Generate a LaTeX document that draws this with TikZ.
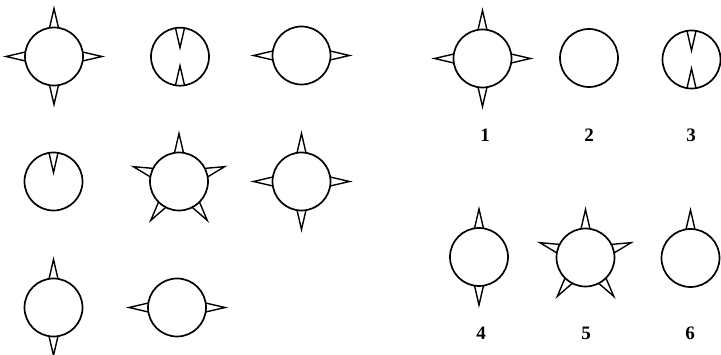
\documentclass[tikz,border=0pt]{standalone}
\usepackage{fontspec}
\setmainfont{Liberation Serif}
\begin{document}
\begin{tikzpicture}[x=1pt,y=1pt,
  ballline/.style={line width=1.7pt, line join=round},
  spikeline/.style={line width=1.4pt, line join=miter},
  spikeout/.pic={\draw[spikeline] (28.6,-4.5) -- (48,0) -- (28.6,4.5);},
  spikein/.pic={\draw[spikeline] (28.6,-4.5) -- (9,0) -- (28.6,4.5);},
  numlabel/.style={font=\bfseries\fontsize{19}{19}\selectfont, inner sep=0pt}]
\useasboundingbox (0,0) rectangle (721,-355);
% ---------- left panel ----------
\coordinate (A) at (54,-56.5);
\coordinate (B) at (180,-56.7);
\coordinate (C) at (301.5,-55.5);
\coordinate (D) at (53.5,-181.5);
\coordinate (E) at (179,-181.5);
\coordinate (F) at (301.5,-181.5);
\coordinate (G) at (53.5,-307.5);
\coordinate (H) at (177,-307.5);
% ---------- right panel ----------
\coordinate (R1) at (482.5,-58.5);
\coordinate (R2) at (589,-58);
\coordinate (R3) at (691.5,-59.5);
\coordinate (R4) at (479,-257);
\coordinate (R5) at (585.5,-257.5);
\coordinate (R6) at (690.5,-258);
\foreach \c in {A,B,C,D,E,F,G,H,R1,R2,R3,R4,R5,R6}
  \draw[ballline] (\c) circle (29);
% spikes
\foreach \c/\a in {A/90,A/0,A/180,A/270, C/0,C/180,
  E/90,E/18,E/162,E/234,E/306, F/90,F/0,F/180,F/270,
  G/90,G/270, H/0,H/180,
  R1/90,R1/0,R1/180,R1/270, R4/90,R4/270,
  R5/90,R5/18,R5/162,R5/234,R5/306, R6/90}
  \pic[rotate=\a] at (\c) {spikeout};
\foreach \c/\a in {B/90,B/270, D/90, R3/90,R3/270}
  \pic[rotate=\a] at (\c) {spikein};
% labels
\node[numlabel] (n1) at (485,-135) {1};
\node[numlabel] (n2) at (589,-135) {2};
\node[numlabel] (n3) at (691,-135) {3};
\node[numlabel] (n4) at (481,-333) {4};
\node[numlabel] (n5) at (586,-333) {5};
\node[numlabel] (n6) at (690,-333) {6};
\end{tikzpicture}
\end{document}
